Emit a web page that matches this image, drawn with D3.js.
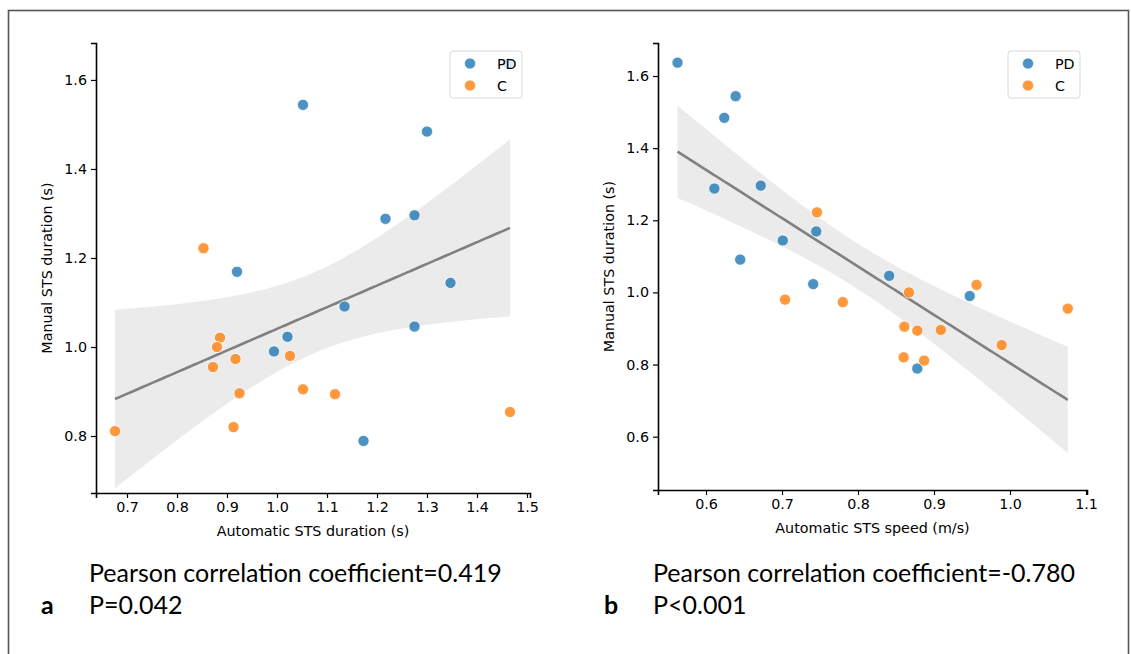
<!DOCTYPE html>
<html>
<head>
<meta charset="utf-8">
<script src="https://cdn.jsdelivr.net/npm/d3@7"></script>
<style>
  body { margin: 0; background: #fff; }
  svg { display: block; }
</style>
</head>
<body>
<svg id="chart" width="1131" height="654"></svg>
<script>
// manual STS duration (s), shared by both panels
var manualPD = [1.637, 1.544, 1.484, 1.296, 1.288, 1.169, 1.144, 1.091, 1.046, 1.023, 0.990, 0.789];
var manualC  = [1.222, 1.021, 1.000, 0.980, 0.973, 0.955, 0.905, 0.896, 0.894, 0.854, 0.820, 0.811];
// automatic STS duration (s)
var durPD = [1.462, 1.052, 1.300, 1.275, 1.217, 0.920, 1.347, 1.135, 1.275, 1.021, 0.994, 1.173];
var durC  = [0.853, 0.886, 0.880, 1.026, 0.917, 0.872, 1.052, 0.925, 1.116, 1.466, 0.913, 0.676];
// automatic STS speed (m/s)
var speedPD = [0.5625, 0.639, 0.624, 0.672, 0.611, 0.745, 0.701, 0.645, 0.841, 0.741, 0.947, 0.878];
var speedC  = [0.746, 0.956, 0.867, 0.704, 0.780, 1.076, 0.861, 0.909, 0.878, 0.989, 0.860, 0.887];

var groups = ["PD", "C"];
var xTicksA = [0.7, 0.8, 0.9, 1.0, 1.1, 1.2, 1.3, 1.4, 1.5];
var yTicksA = [0.8, 1.0, 1.2, 1.4, 1.6];
var xTicksB = [0.6, 0.7, 0.8, 0.9, 1.0, 1.1];
var yTicksB = [0.6, 0.8, 1.0, 1.2, 1.4, 1.6];

var colors = { PD: "#1f77b4", C: "#ff7f0e" };
var fontPx = "14.3px";
var svg = d3.select("#chart");

// outer frame
svg.append("rect")
  .attr("x", 8.5).attr("y", 10.5)
  .attr("width", 1120).attr("height", 700)
  .attr("fill", "none")
  .attr("stroke", "#555").attr("stroke-width", 1.6);

function drawPanel(cfg) {
  var x = d3.scaleLinear().domain(cfg.xDomain).range([cfg.left, cfg.right]);
  var y = d3.scaleLinear().domain(cfg.yDomain).range([cfg.bottom, cfg.top]);
  var g = svg.append("g");

  var pts = [];
  cfg.xPD.forEach(function(v, i) { pts.push({ x: v, y: manualPD[i], grp: "PD" }); });
  cfg.xC.forEach(function(v, i) { pts.push({ x: v, y: manualC[i], grp: "C" }); });

  // OLS fit + 95% CI
  var n = pts.length;
  var mx = d3.mean(pts, function(d) { return d.x; });
  var my = d3.mean(pts, function(d) { return d.y; });
  var sxx = d3.sum(pts, function(d) { return (d.x - mx) * (d.x - mx); });
  var sxy = d3.sum(pts, function(d) { return (d.x - mx) * (d.y - my); });
  var b = sxy / sxx, a = my - b * mx;
  var sse = d3.sum(pts, function(d) { var r = d.y - (a + b * d.x); return r * r; });
  var s = Math.sqrt(sse / (n - 2));
  var tcrit = 2.074;
  var ext = d3.extent(pts, function(d) { return d.x; });
  var grid = d3.range(0, 101).map(function(k) {
    var xv = ext[0] + (ext[1] - ext[0]) * k / 100;
    var se = s * Math.sqrt(1 / n + (xv - mx) * (xv - mx) / sxx);
    var yv = a + b * xv;
    return { x: xv, y: yv, lo: yv - tcrit * se, hi: yv + tcrit * se };
  });

  g.append("path")
    .datum(grid)
    .attr("fill", "#ebebeb")
    .attr("d", d3.area()
      .x(function(d) { return x(d.x); })
      .y0(function(d) { return y(d.lo); })
      .y1(function(d) { return y(d.hi); }));

  g.append("path")
    .datum(grid)
    .attr("fill", "none")
    .attr("stroke", "#808080")
    .attr("stroke-width", 2.6)
    .attr("d", d3.line()
      .x(function(d) { return x(d.x); })
      .y(function(d) { return y(d.y); }));

  g.selectAll("circle.pt")
    .data(pts)
    .enter()
    .append("circle")
    .attr("class", "pt")
    .attr("cx", function(d) { return x(d.x); })
    .attr("cy", function(d) { return y(d.y); })
    .attr("r", 5.6)
    .attr("fill", function(d) { return colors[d.grp]; })
    .attr("fill-opacity", 0.8)
    .attr("stroke", "#fff")
    .attr("stroke-width", 0.8);

  // axes (left + bottom spines only)
  var xAxis = g.append("g")
    .attr("transform", "translate(0," + cfg.bottom + ")")
    .call(d3.axisBottom(x).tickValues(cfg.xTicks).tickFormat(d3.format(".1f")).tickSize(5).tickPadding(4));
  var yAxis = g.append("g")
    .attr("transform", "translate(" + cfg.left + ",0)")
    .call(d3.axisLeft(y).tickValues(cfg.yTicks).tickFormat(d3.format(".1f")).tickSize(5).tickPadding(4));
  [xAxis, yAxis].forEach(function(ax) {
    ax.select(".domain").attr("stroke", "#000").attr("stroke-width", 1.6);
    ax.selectAll(".tick line").attr("stroke", "#000").attr("stroke-width", 1.2);
    ax.selectAll(".tick text")
      .attr("font-family", "DejaVu Sans")
      .attr("font-size", fontPx)
      .attr("fill", "#000");
  });

  g.append("text")
    .attr("x", (cfg.left + cfg.right) / 2)
    .attr("y", cfg.bottom + 43)
    .attr("text-anchor", "middle")
    .attr("font-family", "DejaVu Sans")
    .attr("font-size", fontPx)
    .text(cfg.xLabel);

  g.append("text")
    .attr("transform", "translate(" + (cfg.left - 44) + "," + ((cfg.top + cfg.bottom) / 2) + ") rotate(-90)")
    .attr("text-anchor", "middle")
    .attr("font-family", "DejaVu Sans")
    .attr("font-size", fontPx)
    .text("Manual STS duration (s)");

  // legend
  var lg = g.append("g").attr("transform", "translate(" + cfg.legendX + ",51)");
  lg.append("rect")
    .attr("width", 72).attr("height", 47).attr("rx", 3)
    .attr("fill", "#fff").attr("fill-opacity", 0.8)
    .attr("stroke", "#d9d9d9").attr("stroke-width", 1);
  groups.forEach(function(k, i) {
    lg.append("circle")
      .attr("cx", 20).attr("cy", 12.5 + i * 22)
      .attr("r", 5.6)
      .attr("fill", colors[k]).attr("fill-opacity", 0.8)
      .attr("stroke", "#fff").attr("stroke-width", 0.8);
    lg.append("text")
      .attr("x", 47).attr("y", 17.5 + i * 22)
      .attr("font-family", "DejaVu Sans")
      .attr("font-size", fontPx)
      .text(k);
  });

  // caption
  var cap = svg.append("g").attr("font-family", "Lato").attr("fill", "#000");
  cap.append("text")
    .attr("x", cfg.capX).attr("y", 582)
    .attr("font-size", "25px")
    .text(cfg.coef);
  cap.append("text")
    .attr("x", cfg.capX).attr("y", 614)
    .attr("font-size", "25px")
    .text(cfg.p);
  cap.append("text")
    .attr("x", cfg.letterX).attr("y", 614)
    .attr("font-size", "25px")
    .attr("font-weight", "bold")
    .text(cfg.letter);
}

drawPanel({
  left: 96, right: 530, top: 43, bottom: 493,
  xDomain: [0.638, 1.506], yDomain: [0.672, 1.683],
  xTicks: xTicksA, yTicks: yTicksA,
  xPD: durPD, xC: durC,
  xLabel: "Automatic STS duration (s)",
  legendX: 450,
  capX: 89, letterX: 41, letter: "a",
  coef: "Pearson correlation coefficient=0.419", p: "P=0.042"
});

drawPanel({
  left: 658, right: 1087, top: 43, bottom: 490,
  xDomain: [0.5368, 1.1013], yDomain: [0.4522, 1.6915],
  xTicks: xTicksB, yTicks: yTicksB,
  xPD: speedPD, xC: speedC,
  xLabel: "Automatic STS speed (m/s)",
  legendX: 1008,
  capX: 653, letterX: 604, letter: "b",
  coef: "Pearson correlation coefficient=-0.780", p: "P<0.001"
});
</script>
</body>
</html>
